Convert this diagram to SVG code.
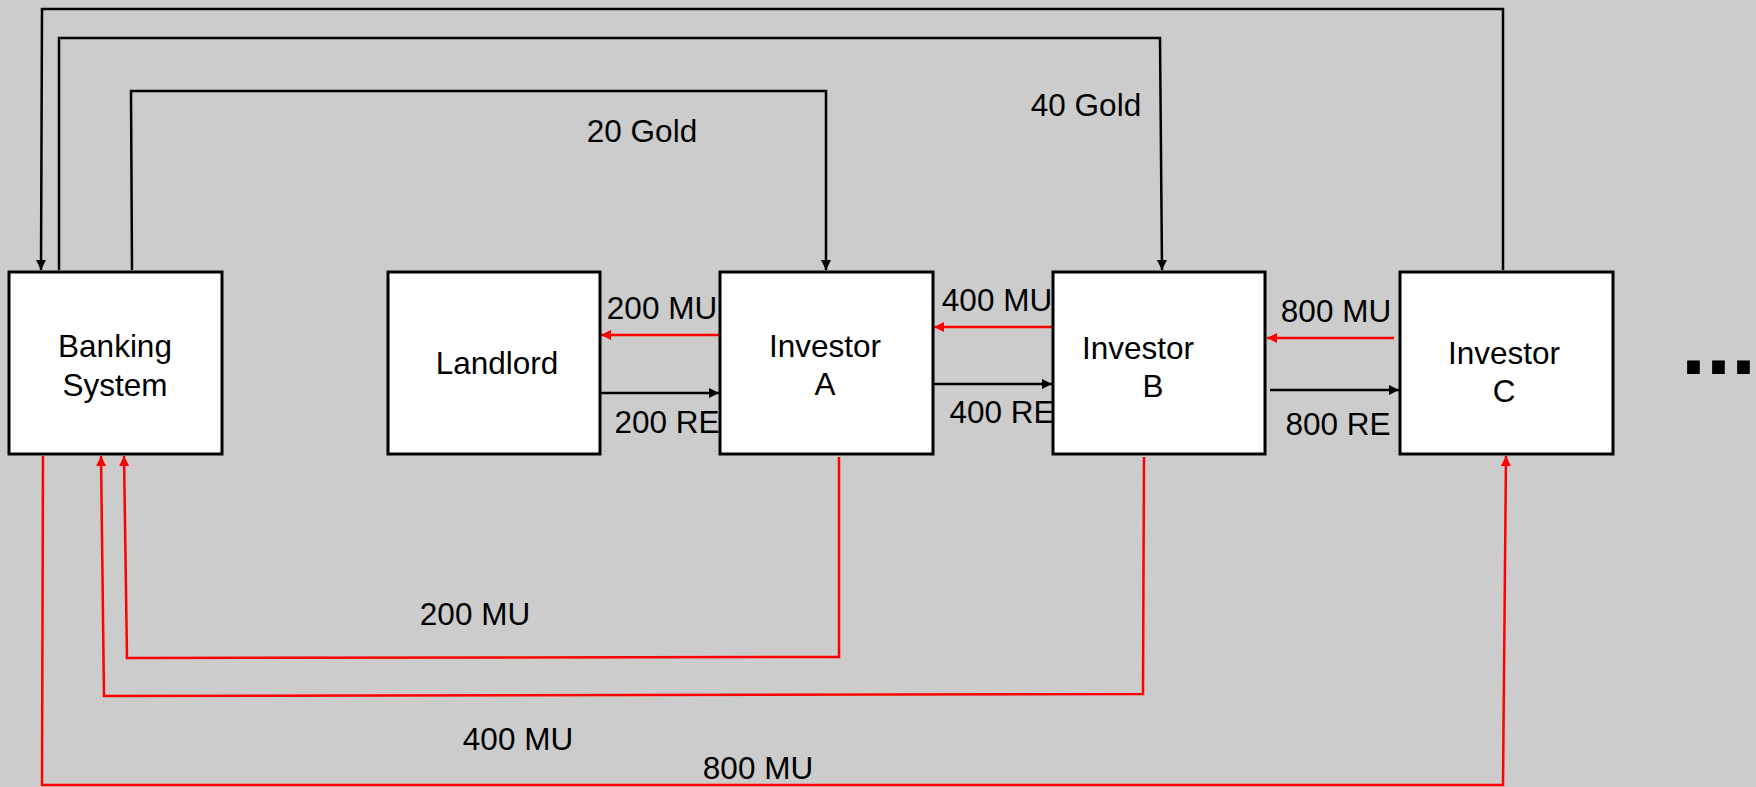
<svg xmlns="http://www.w3.org/2000/svg" width="1756" height="787" viewBox="0 0 1756 787">
<defs>
<style>
.box{fill:#ffffff;stroke:#000000;stroke-width:3}
.t{font-family:"Liberation Sans",Arial,sans-serif;font-size:31.5px;fill:#000000;text-anchor:middle}
.blk{fill:none;stroke:#000000;stroke-width:2.5}
.red{fill:none;stroke:#ff0000;stroke-width:2.5}
</style>
<marker id="ab" viewBox="0 0 10 10" refX="10" refY="5" markerWidth="4.4" markerHeight="4" orient="auto" markerUnits="strokeWidth">
<path d="M0,0 L10,5 L0,10 z" fill="#000000"/>
</marker>
<marker id="ar" viewBox="0 0 10 10" refX="10" refY="5" markerWidth="4.4" markerHeight="4" orient="auto" markerUnits="strokeWidth">
<path d="M0,0 L10,5 L0,10 z" fill="#ff0000"/>
</marker>
</defs>
<rect x="0" y="0" width="1756" height="787" fill="#cccccc"/>
<g id="connectors">
<polyline class="blk" points="1503,270 1503,9 42,9 41,270" marker-end="url(#ab)"/>
<polyline class="blk" points="59,270 59,38 1160,38 1162,270" marker-end="url(#ab)"/>
<polyline class="blk" points="132,270 131,91 826,91 826,270" marker-end="url(#ab)"/>
<line class="red" x1="719" y1="335" x2="601" y2="335" marker-end="url(#ar)"/>
<line class="blk" x1="595" y1="393" x2="719" y2="393" marker-end="url(#ab)"/>
<line class="red" x1="1052" y1="327" x2="934" y2="327" marker-end="url(#ar)"/>
<line class="blk" x1="930" y1="384" x2="1052" y2="384" marker-end="url(#ab)"/>
<line class="red" x1="1394" y1="338" x2="1267" y2="338" marker-end="url(#ar)"/>
<line class="blk" x1="1270" y1="390" x2="1399" y2="390" marker-end="url(#ab)"/>
<polyline class="red" points="839,457 839,657 127,658 124,456" marker-end="url(#ar)"/>
<polyline class="red" points="1144,457 1143,694 104,696 101,456" marker-end="url(#ar)"/>
<polyline class="red" points="43,456 42,785 1503,785 1506,456" marker-end="url(#ar)"/>
<text class="t" x="642" y="142">20 Gold</text>
<text class="t" x="1086" y="116">40 Gold</text>
<text class="t" x="662" y="319">200 MU</text>
<text class="t" x="667" y="433">200 RE</text>
<text class="t" x="997" y="311">400 MU</text>
<text class="t" x="1002" y="423">400 RE</text>
<text class="t" x="1336" y="322">800 MU</text>
<text class="t" x="1338" y="435">800 RE</text>
<text class="t" x="475" y="625">200 MU</text>
<text class="t" x="518" y="750">400 MU</text>
<text class="t" x="758" y="779">800 MU</text>
</g>
<g id="banking">
<rect class="box" x="9" y="272" width="213" height="182"/>
<text class="t" x="115" y="357">Banking</text>
<text class="t" x="115" y="396">System</text>
</g>
<g id="landlord">
<rect class="box" x="388" y="272" width="212" height="182"/>
<text class="t" x="497" y="374">Landlord</text>
</g>
<g id="investorA">
<rect class="box" x="720" y="272" width="213" height="182"/>
<text class="t" x="825" y="357">Investor</text>
<text class="t" x="825" y="395">A</text>
</g>
<g id="investorB">
<rect class="box" x="1053" y="272" width="212" height="182"/>
<text class="t" x="1138" y="359">Investor</text>
<text class="t" x="1153" y="397">B</text>
</g>
<g id="investorC">
<rect class="box" x="1400" y="272" width="213" height="182"/>
<text class="t" x="1504" y="364">Investor</text>
<text class="t" x="1504" y="402">C</text>
</g>
<g id="ellipsis">
<text x="1681" y="374" style="font-family:'Liberation Sans',Arial,sans-serif;font-size:90px;font-weight:bold;fill:#000000">...</text>
</g>
</svg>
